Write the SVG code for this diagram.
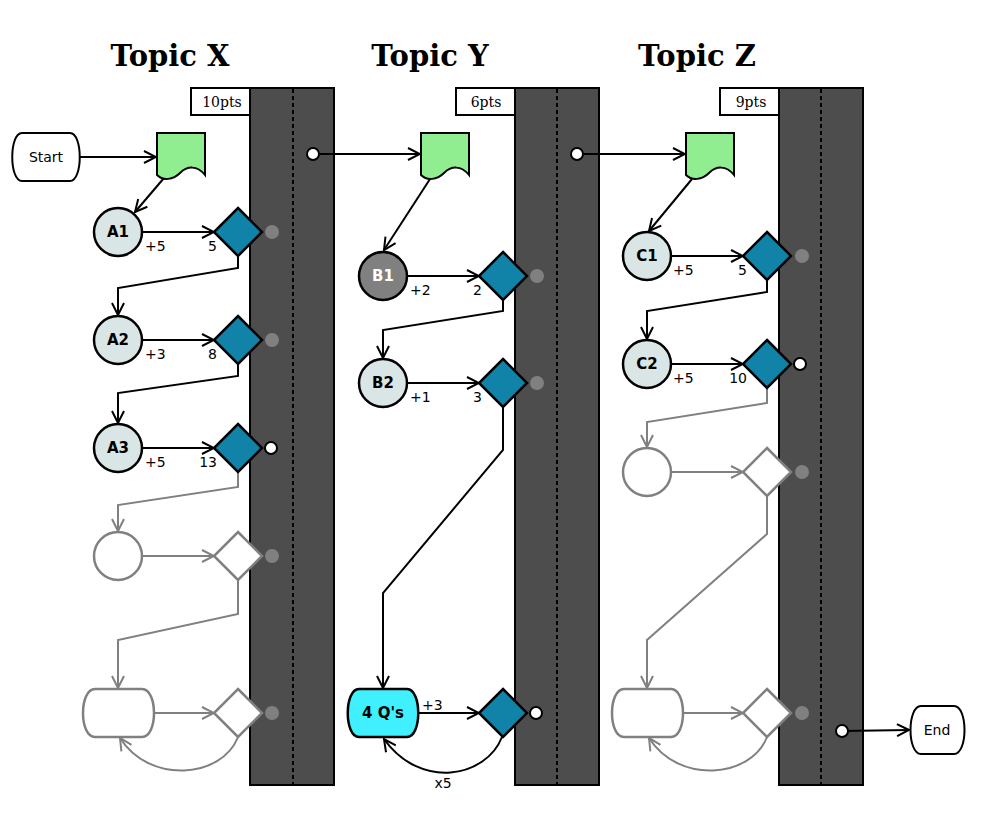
<svg xmlns="http://www.w3.org/2000/svg" xmlns:xlink="http://www.w3.org/1999/xlink" width="992" height="820" viewBox="0 0 992 820">
<style>
.title{font-family:"DejaVu Serif",serif;font-weight:bold;font-size:29px;text-anchor:middle;fill:#000}
.pts{font-family:"DejaVu Serif",serif;font-size:14px;text-anchor:middle;fill:#000}
.bar{fill:#4d4d4d;stroke:#000;stroke-width:2}
.dash{stroke:#000;stroke-width:2;stroke-dasharray:4,3;fill:none}
.ptbox{fill:#fff;stroke:#000;stroke-width:2}
.doc{fill:#90ee90;stroke:#000;stroke-width:2}
.circ{fill:#dae6e6;stroke:#000;stroke-width:2.5}
.circd{fill:#808080;stroke:#000;stroke-width:2.5}
.dia{fill:#1182a8;stroke:#000;stroke-width:2.5}
.gcirc{fill:#fff;stroke:#808080;stroke-width:2.5}
.gdia{fill:#fff;stroke:#808080;stroke-width:2.5}
.term{fill:#fff;stroke:#000;stroke-width:2}
.cyan{fill:#40f0ff;stroke:#000;stroke-width:2.5}
.gdot{fill:#808080}
.wdot{fill:#fff;stroke:#000;stroke-width:2}
.lbl{font-family:"DejaVu Sans",sans-serif;font-weight:bold;font-size:15px;text-anchor:middle;fill:#000}
.lblw{font-family:"DejaVu Sans",sans-serif;font-weight:bold;font-size:15px;text-anchor:middle;fill:#fff}
.txt{font-family:"DejaVu Sans",sans-serif;font-size:14px;fill:#000}
.end{text-anchor:end}
.mid{text-anchor:middle}
.ln{fill:none;stroke:#000;stroke-width:2;marker-end:url(#ah)}
.gln{fill:none;stroke:#808080;stroke-width:2;marker-end:url(#ahg)}
</style>
<defs>
<marker id="ah" viewBox="0 0 14 14" refX="13" refY="7" markerWidth="14" markerHeight="14" markerUnits="userSpaceOnUse" orient="auto">
<path d="M1,1 L13,7 L1,13" fill="none" stroke="#000" stroke-width="2"/>
</marker>
<marker id="ahg" viewBox="0 0 14 14" refX="13" refY="7" markerWidth="14" markerHeight="14" markerUnits="userSpaceOnUse" orient="auto">
<path d="M1,1 L13,7 L1,13" fill="none" stroke="#808080" stroke-width="2"/>
</marker>
<path id="docshape" d="M0,0 H48 V42 C40,32 30,33 23,40 C16,47 6,48 0,42 Z"/>
<path id="dshape" d="M0,-24 L24,0 L0,24 L-24,0 Z"/>
</defs>
<g id="titles">
<text class="title" x="170" y="66">Topic X</text>
<text class="title" x="430" y="66">Topic Y</text>
<text class="title" x="697" y="66">Topic Z</text>
</g>
<g id="lanes">
<rect class="bar" x="250" y="88" width="84" height="697"/>
<line class="dash" x1="293" y1="89" x2="293" y2="784"/>
<rect class="ptbox" x="191" y="88" width="59" height="27"/>
<text class="pts" x="222" y="107">10pts</text>
<rect class="bar" x="515" y="88" width="84" height="697"/>
<line class="dash" x1="557" y1="89" x2="557" y2="784"/>
<rect class="ptbox" x="456" y="88" width="59" height="27"/>
<text class="pts" x="486" y="107">6pts</text>
<rect class="bar" x="779" y="88" width="84" height="697"/>
<line class="dash" x1="821" y1="89" x2="821" y2="784"/>
<rect class="ptbox" x="720" y="88" width="59" height="27"/>
<text class="pts" x="751" y="107">9pts</text>
</g>
<g id="connectors">
<path class="ln" d="M80,157 H156"/>
<path class="ln" d="M164,178 L135,212"/>
<path class="ln" d="M143,232 H214"/>
<path class="ln" d="M238,256 V268 L118,288 V315"/>
<path class="ln" d="M143,340 H214"/>
<path class="ln" d="M238,364 V376 L118,393 V423"/>
<path class="ln" d="M143,448 H214"/>
<path class="gln" d="M238,472 V487 L118,505 V531"/>
<path class="gln" d="M143,556 H214"/>
<path class="gln" d="M238,580 V614 L118,640 V688"/>
<path class="gln" d="M155,713 H214"/>
<path class="gln" d="M238,737 C222,778 150,785 120,738"/>
<path class="ln" d="M313,154 H420"/>
<path class="ln" d="M430,179 L384,250"/>
<path class="ln" d="M408,276 H479"/>
<path class="ln" d="M503,300 V311 L383,330 V358"/>
<path class="ln" d="M408,383 H479"/>
<path class="ln" d="M503,407 V450 L383,593 V688"/>
<path class="ln" d="M419,713 H479"/>
<path class="ln" d="M502,737 C486,778 420,790 384,739"/>
<path class="ln" d="M577,154 H685"/>
<path class="ln" d="M692,179 L649,231"/>
<path class="ln" d="M672,256 H743"/>
<path class="ln" d="M767,280 V292 L647,311 V339"/>
<path class="ln" d="M672,364 H743"/>
<path class="gln" d="M767,388 V403 L647,422 V447"/>
<path class="gln" d="M672,472 H743"/>
<path class="gln" d="M767,496 V534 L647,640 V688"/>
<path class="gln" d="M684,713 H743"/>
<path class="gln" d="M767,737 C751,778 679,785 649,738"/>
<path class="ln" d="M842,731 L909,730"/>
</g>
<g id="edge-labels">
<text class="txt" x="145" y="251">+5</text><text class="txt end" x="217" y="251">5</text>
<text class="txt" x="145" y="359">+3</text><text class="txt end" x="217" y="359">8</text>
<text class="txt" x="145" y="467">+5</text><text class="txt end" x="217" y="467">13</text>
<text class="txt" x="410" y="295">+2</text><text class="txt end" x="482" y="295">2</text>
<text class="txt" x="410" y="402">+1</text><text class="txt end" x="482" y="402">3</text>
<text class="txt" x="422" y="710">+3</text>
<text class="txt mid" x="443" y="788">x5</text>
<text class="txt" x="673" y="275">+5</text><text class="txt end" x="747" y="275">5</text>
<text class="txt" x="673" y="383">+5</text><text class="txt end" x="747" y="383">10</text>
</g>
<g id="start">
<path class="term" d="M22,133 H70 C83,133 83,181 70,181 H22 C9,181 9,133 22,133 Z"/>
<text class="txt mid" x="46" y="162">Start</text>
</g>
<g id="docX"><use href="#docshape" class="doc" x="157" y="133"/></g>
<g id="docY"><use href="#docshape" class="doc" x="421" y="133"/></g>
<g id="docZ"><use href="#docshape" class="doc" x="686" y="133"/></g>
<g id="A1"><circle class="circ" cx="118" cy="232" r="24"/><text class="lbl" x="118" y="237">A1</text></g>
<g id="A2"><circle class="circ" cx="118" cy="340" r="24"/><text class="lbl" x="118" y="345">A2</text></g>
<g id="A3"><circle class="circ" cx="118" cy="448" r="24"/><text class="lbl" x="118" y="453">A3</text></g>
<g id="X4"><circle class="gcirc" cx="118" cy="556" r="24"/></g>
<g id="X5"><path class="gdia" d="M95,689 H142 C158,689 158,737 142,737 H95 C79,737 79,689 95,689 Z"/></g>
<g id="DX1"><use href="#dshape" class="dia" x="238" y="232"/><circle class="gdot" cx="272" cy="232" r="7"/></g>
<g id="DX2"><use href="#dshape" class="dia" x="238" y="340"/><circle class="gdot" cx="272" cy="340" r="7"/></g>
<g id="DX3"><use href="#dshape" class="dia" x="238" y="448"/><circle class="wdot" cx="271" cy="448" r="6"/></g>
<g id="DX4"><use href="#dshape" class="gdia" x="238" y="556"/><circle class="gdot" cx="272" cy="556" r="7"/></g>
<g id="DX5"><use href="#dshape" class="gdia" x="238" y="713"/><circle class="gdot" cx="272" cy="713" r="7"/></g>
<g id="XOut"><circle class="wdot" cx="313" cy="154" r="6"/></g>
<g id="B1"><circle class="circd" cx="383" cy="276" r="24"/><text class="lblw" x="383" y="281">B1</text></g>
<g id="B2"><circle class="circ" cx="383" cy="383" r="24"/><text class="lbl" x="383" y="388">B2</text></g>
<g id="Q4">
<path class="cyan" d="M359,689 H407 C422,689 422,737 407,737 H359 C344,737 344,689 359,689 Z"/>
<text class="lbl" x="383" y="718">4 Q's</text>
</g>
<g id="DY1"><use href="#dshape" class="dia" x="503" y="276"/><circle class="gdot" cx="537" cy="276" r="7"/></g>
<g id="DY2"><use href="#dshape" class="dia" x="503" y="383"/><circle class="gdot" cx="537" cy="383" r="7"/></g>
<g id="DY3"><use href="#dshape" class="dia" x="503" y="713"/><circle class="wdot" cx="536" cy="713" r="6"/></g>
<g id="YOut"><circle class="wdot" cx="577" cy="154" r="6"/></g>
<g id="C1"><circle class="circ" cx="647" cy="256" r="24"/><text class="lbl" x="647" y="261">C1</text></g>
<g id="C2"><circle class="circ" cx="647" cy="364" r="24"/><text class="lbl" x="647" y="369">C2</text></g>
<g id="Z3"><circle class="gcirc" cx="647" cy="472" r="24"/></g>
<g id="Z4"><path class="gdia" d="M624,689 H671 C687,689 687,737 671,737 H624 C608,737 608,689 624,689 Z"/></g>
<g id="DZ1"><use href="#dshape" class="dia" x="767" y="256"/><circle class="gdot" cx="802" cy="256" r="7"/></g>
<g id="DZ2"><use href="#dshape" class="dia" x="767" y="364"/><circle class="wdot" cx="800" cy="364" r="6"/></g>
<g id="DZ3"><use href="#dshape" class="gdia" x="767" y="472"/><circle class="gdot" cx="802" cy="472" r="7"/></g>
<g id="DZ4"><use href="#dshape" class="gdia" x="767" y="713"/><circle class="gdot" cx="802" cy="713" r="7"/></g>
<g id="ZOut"><circle class="wdot" cx="842" cy="731" r="6"/></g>
<g id="end">
<path class="term" d="M921,706 H954 C968,706 968,754 954,754 H921 C907,754 907,706 921,706 Z"/>
<text class="txt mid" x="937" y="735">End</text>
</g>
</svg>
